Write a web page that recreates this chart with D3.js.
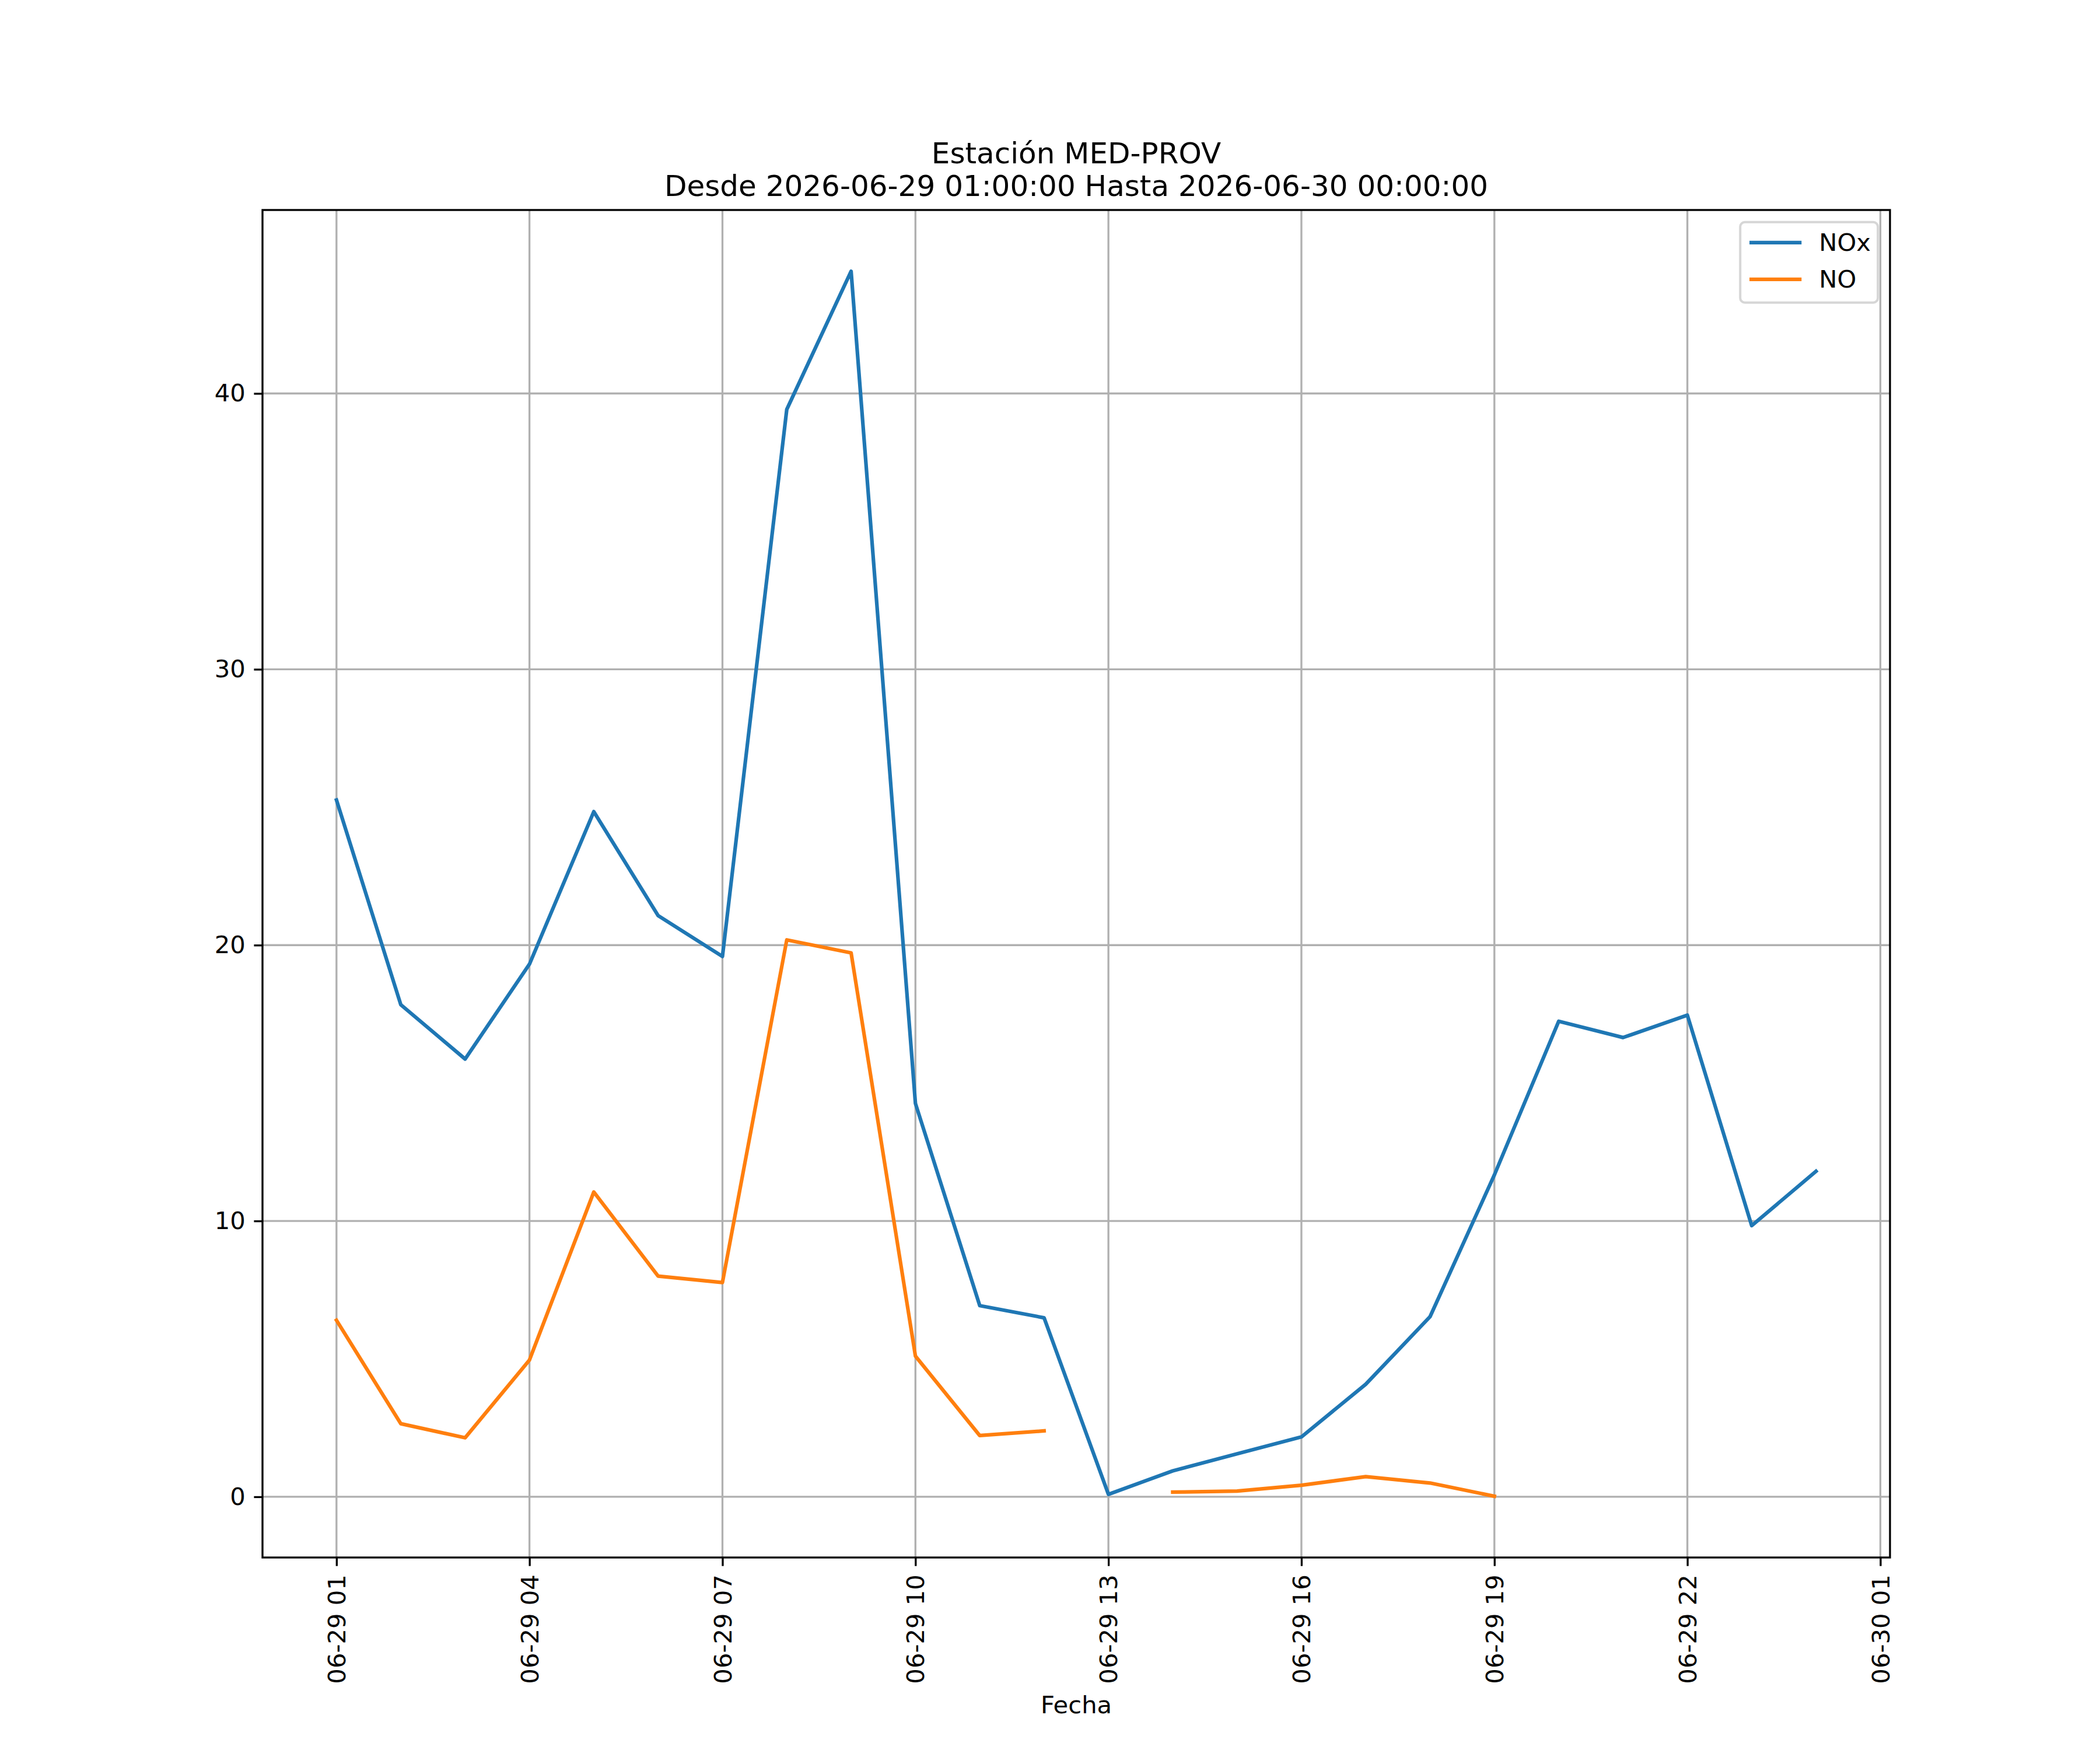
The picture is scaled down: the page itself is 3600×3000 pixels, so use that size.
<!DOCTYPE html>
<html lang="es">
<head>
<meta charset="utf-8">
<title>Estación MED-PROV</title>
<script src="https://cdn.jsdelivr.net/npm/d3@7/dist/d3.min.js"></script>
<style>
  body { margin: 0; background: #fff; }
  svg text { font-family: "DejaVu Sans", sans-serif; fill: #000; }
  .tick text { font-size: 41.7px; }
  .title { font-size: 50px; text-anchor: middle; }
  .label { font-size: 41.7px; text-anchor: middle; }
  .legend text { font-size: 41.7px; }
</style>
</head>
<body>
<script>
// hourly readings, 2026-06-29 01:00 .. 2026-06-30 00:00
var hours = [1,2,3,4,5,6,7,8,9,10,11,12,13,14,15,16,17,18,19,20,21,22,23,24];
var nox = [25.26,17.84,15.87,19.31,24.84,21.07,19.59,39.42,44.43,14.26,6.93,6.49,
           0.09,0.94,1.56,2.17,4.08,6.53,11.67,17.24,16.65,17.46,9.83,11.80];
var no  = [6.40,2.65,2.14,4.96,11.05,8.00,7.77,20.19,19.72,5.10,2.22,2.39,
           null,0.17,0.21,0.42,0.73,0.50,0.02,null,null,null,null,null];
var seriesNames = ["NOx", "NO"];
var seriesColors = ["#1f77b4", "#ff7f0e"];
var yTicks = [0, 10, 20, 30, 40];
var titleLines = ["Estación MED-PROV", "Desde 2026-06-29 01:00:00 Hasta 2026-06-30 00:00:00"];

var W = 3600, H = 3000;
var margin = {top: 360, right: 360, bottom: 330, left: 450};
var width = W - margin.left - margin.right,
    height = H - margin.top - margin.bottom;

var dates = hours.map(function(h) { return new Date(2026, 5, 29, h); });
var series = [nox, no].map(function(vals, i) {
  return {
    name: seriesNames[i],
    color: seriesColors[i],
    values: vals.map(function(v, j) { return {date: dates[j], value: v}; })
  };
});

var svg = d3.select("body").append("svg")
  .attr("width", W)
  .attr("height", H);

var g = svg.append("g")
  .attr("transform", "translate(" + margin.left + "," + margin.top + ")");

// matplotlib-style 5% margins
var tExt = d3.extent(dates);
var tPad = (tExt[1] - tExt[0]) * 0.05;
var x = d3.scaleTime()
  .domain([new Date(+tExt[0] - tPad), new Date(+tExt[1] + tPad)])
  .range([0, width]);

var allVals = nox.concat(no).filter(function(v) { return v !== null; });
var yExt = d3.extent(allVals);
var yPad = (yExt[1] - yExt[0]) * 0.05;
var y = d3.scaleLinear()
  .domain([yExt[0] - yPad, yExt[1] + yPad])
  .range([height, 0]);

var xTicks = d3.timeHour.range(dates[0], x.domain()[1], 3);

// grid
g.append("g").selectAll("line").data(xTicks).enter().append("line")
  .attr("x1", function(d) { return x(d); })
  .attr("x2", function(d) { return x(d); })
  .attr("y1", 0).attr("y2", height)
  .style("stroke", "#b0b0b0").style("stroke-width", 3.33);

g.append("g").selectAll("line").data(yTicks).enter().append("line")
  .attr("x1", 0).attr("x2", width)
  .attr("y1", function(d) { return y(d); })
  .attr("y2", function(d) { return y(d); })
  .style("stroke", "#b0b0b0").style("stroke-width", 3.33);

// lines
var line = d3.line()
  .defined(function(d) { return d.value !== null; })
  .x(function(d) { return x(d.date); })
  .y(function(d) { return y(d.value); });

g.append("g").selectAll("path").data(series).enter().append("path")
  .attr("d", function(d) { return line(d.values); })
  .style("fill", "none")
  .style("stroke", function(d) { return d.color; })
  .style("stroke-width", 6.25)
  .style("stroke-linejoin", "round")
  .style("stroke-linecap", "square");

// axes
var xAxis = d3.axisBottom(x)
  .tickValues(xTicks)
  .tickFormat(d3.timeFormat("%m-%d %H"))
  .tickSize(14.6)
  .tickPadding(14.6);

var gx = g.append("g")
  .attr("transform", "translate(0," + height + ")")
  .call(xAxis);
gx.selectAll(".tick text")
  .attr("transform", "rotate(-90)")
  .attr("x", -29.2)
  .attr("y", 0)
  .attr("dy", "0.35em")
  .style("text-anchor", "end");

var yAxis = d3.axisLeft(y)
  .tickValues(yTicks)
  .tickSize(14.6)
  .tickPadding(14.6);
var gy = g.append("g").call(yAxis);

[gx, gy].forEach(function(a) {
  a.select(".domain").remove();
  a.selectAll(".tick line").style("stroke", "#000").style("stroke-width", 3.33);
});

// frame
g.append("rect")
  .attr("width", width).attr("height", height)
  .style("fill", "none")
  .style("stroke", "#000")
  .style("stroke-width", 3.33);

// title
svg.append("g").selectAll("text").data(titleLines).enter().append("text")
  .attr("class", "title")
  .attr("x", margin.left + width / 2)
  .attr("y", function(d, i) { return 280 + i * 56; })
  .text(function(d) { return d; });

svg.append("text")
  .attr("class", "label")
  .attr("x", margin.left + width / 2)
  .attr("y", 2937)
  .text("Fecha");

// legend
var legW = 236, legH = 138;
var legend = g.append("g")
  .attr("class", "legend")
  .attr("transform", "translate(" + (width - 20.8 - legW) + "," + 20.8 + ")");

legend.append("rect")
  .attr("width", legW).attr("height", legH)
  .attr("rx", 8).attr("ry", 8)
  .style("fill", "#fff").style("fill-opacity", 0.8)
  .style("stroke", "#cccccc").style("stroke-opacity", 0.8)
  .style("stroke-width", 4);

var items = legend.selectAll(".item").data(series).enter().append("g")
  .attr("class", "item")
  .attr("transform", function(d, i) { return "translate(0," + (35 + i * 63) + ")"; });

items.append("line")
  .attr("x1", 19).attr("x2", 102)
  .style("stroke", function(d) { return d.color; })
  .style("stroke-width", 6.25)
  .style("stroke-linecap", "square");

items.append("text")
  .attr("x", 135)
  .attr("dy", "0.35em")
  .text(function(d) { return d.name; });
</script>
</body>
</html>
